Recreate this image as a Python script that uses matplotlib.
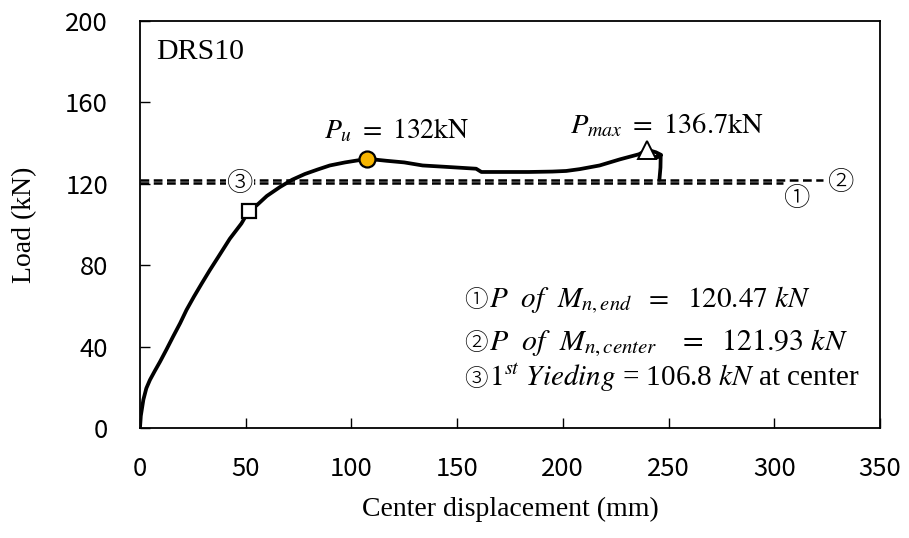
import matplotlib
matplotlib.use("Agg")
import matplotlib.pyplot as plt

plt.rcParams["mathtext.fontset"] = "stix"

# Load-displacement response of specimen DRS10
disp = [0, 0.4, 1.6, 3.0, 4.7, 7.0, 9.5, 12.5, 15.7, 19.0, 22.0, 25.5, 29.2, 33.0,
        37.0, 42.5, 48.0, 51.5, 55.2, 60.0, 66.2, 72.0, 78.0, 84.0, 89.8, 97.0,
        103.0, 107.4, 112.0, 116.6, 125.0, 133.7, 145.0, 159.0, 161.5, 170.0,
        184.0, 195.0, 201.6, 208.0, 217.4, 227.0, 236.0, 240.0, 244.0, 246.5,
        243.0, 246.3, 246.2, 245.7]
load = [0, 6.0, 13.9, 19.5, 23.6, 28.0, 32.6, 38.5, 45.0, 51.5, 58.0, 64.5, 71.0,
        77.5, 84.0, 93.0, 100.5, 106.8, 109.4, 114.0, 118.4, 122.0, 124.8, 127.0,
        129.0, 130.5, 131.5, 132.0, 131.8, 131.3, 130.5, 129.0, 128.3, 127.4,
        125.8, 125.8, 125.8, 126.0, 126.3, 127.2, 129.0, 132.0, 134.5, 136.7,
        135.5, 134.2, 132.8, 133.4, 128.0, 122.0]

# Key points
yield_pt = (51.5, 106.8)     # 1st yielding at center
pu_pt = (107.4, 132.0)       # P_u
pmax_pt = (240.0, 136.7)     # P_max

# Nominal-moment load levels and the extent of their reference lines
p_mn_end = 120.47
p_mn_center = 121.93
end_line_xmax = 304
center_line_xmax = 323

xticks = [0, 50, 100, 150, 200, 250, 300, 350]
yticks = [0, 40, 80, 120, 160, 200]

fig = plt.figure(figsize=(9.09, 5.38), dpi=100)
ax = fig.add_axes([0.154, 0.2045, 0.814, 0.7565])

ax.plot([0, end_line_xmax], [p_mn_end, p_mn_end], color="black", lw=1.8,
        dashes=(3.5, 1.8), zorder=2)
ax.plot([0, center_line_xmax], [p_mn_center, p_mn_center], color="black", lw=1.8,
        dashes=(3.5, 1.8), zorder=2)

ax.plot(disp, load, color="black", lw=2.7, solid_joinstyle="round",
        solid_capstyle="round", zorder=3)

ax.plot(*yield_pt, marker="s", ms=10.5, mfc="white", mec="black", mew=1.6, zorder=4)
ax.plot(*pu_pt, marker="o", ms=11.5, mfc="#F7B500", mec="black", mew=1.6, zorder=4)
ax.plot(*pmax_pt, marker="^", ms=12.5, mfc="white", mec="black", mew=1.4, zorder=4)

ax.set_xlim(0, 350)
ax.set_ylim(0, 200)
ax.set_xticks(xticks)
ax.set_yticks(yticks)

tick_font = {"family": "Noto Sans CJK KR", "size": 18.5, "weight": "light"}
ax.set_xticklabels([str(v) for v in xticks], fontdict=tick_font)
ax.set_yticklabels([str(v) for v in yticks], fontdict=tick_font)
ax.tick_params(axis="x", direction="in", length=7, width=1, pad=20, top=False)
ax.tick_params(axis="y", direction="in", length=7, width=1, pad=23, right=False)
for sp in ax.spines.values():
    sp.set_linewidth(1.3)

ax.set_xlabel("Center displacement (mm)", family="Liberation Serif", fontsize=20,
              labelpad=11)
ax.set_ylabel("Load (kN)", family="Liberation Serif", fontsize=20, labelpad=20)

ax.text(7.5, 191, "DRS10", family="Liberation Serif", fontsize=21.5, va="top",
        ha="left")

circ = ["Noto Sans CJK JP", "DejaVu Sans"]
ax.text(47.5, 120.3, "③", family=circ, fontsize=19, weight="light", ha="center",
        va="center", bbox=dict(facecolor="white", edgecolor="none", pad=0.5),
        zorder=3)
ax.text(311, 112.8, "①", family=circ, fontsize=19, weight="light", ha="center",
        va="center")
ax.text(331.5, 121.0, "②", family=circ, fontsize=19, weight="light", ha="center",
        va="center", bbox=dict(facecolor="white", edgecolor="none", pad=0.5))

ax.text(87, 142.5, r"$P_u\ =\ 132\mathrm{kN}$", fontsize=20,
        ha="left", va="baseline")
ax.text(203.5, 145, r"$P_{max}\ =\ 136.7\mathrm{kN}$", fontsize=20.5,
        ha="left", va="baseline")

# Legend of the reference load levels
num_x = 153.5
text_x = 165
rows_y = [59.5, 38.5, 20.5]
for label, y in zip(["①", "②", "③"], rows_y):
    ax.text(num_x, y, label, family=circ, fontsize=17, weight="light",
            ha="left", va="baseline")
ax.text(text_x, rows_y[0], r"$P\ \ of\ \ M_{n,end}\ \ =\ \ 120.47\ kN$",
        fontsize=21, ha="left", va="baseline")
ax.text(text_x, rows_y[1], r"$P\ \ of\ \ M_{n,center}\ \ \ =\ \ 121.93\ kN$",
        fontsize=21.5, ha="left", va="baseline")
ax.text(text_x, rows_y[2],
        r"$\mathit{1^{st}\ Yieding}$ = 106.8 $\mathit{kN}$ at center",
        family="Liberation Serif", fontsize=21, ha="left", va="baseline")

fig.savefig("out.png", dpi=100)
